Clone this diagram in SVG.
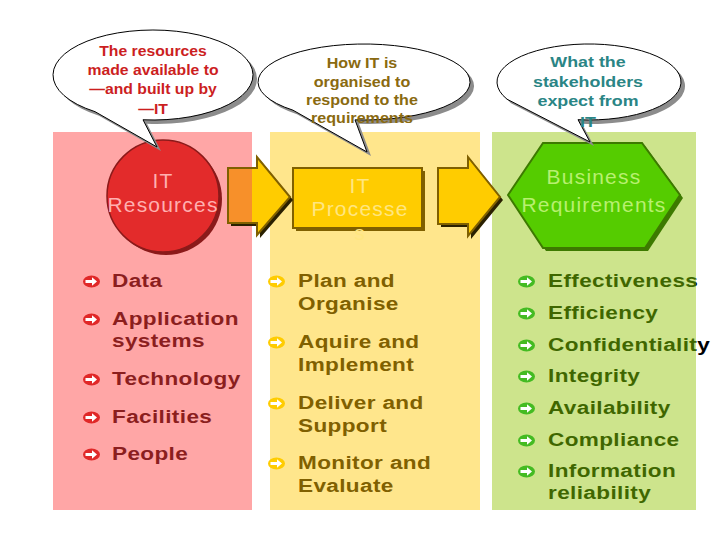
<svg xmlns="http://www.w3.org/2000/svg" width="720" height="540" viewBox="0 0 720 540">
<defs>
<style>
.list{font-family:"Liberation Sans",Arial,sans-serif;font-weight:bold;font-size:18.5px;letter-spacing:0.3px}
.node{font-family:"Liberation Sans",Arial,sans-serif;font-size:21px;letter-spacing:1.2px;text-anchor:middle}
.call{font-family:"Liberation Sans",Arial,sans-serif;font-weight:bold;text-anchor:middle}
.bubble{fill:#FFFFFF;stroke:#000000;stroke-width:1}
.bshadow{fill:#8C8C8C}
.arrow{fill:#FFCC00}
.arrowline{fill:none;stroke:#806000;stroke-width:2;stroke-linejoin:miter}
.ashadow{fill:#2A2000}
</style>
<g id="bullet">
<ellipse cx="0" cy="0" rx="8.5" ry="6"/>
<path d="M-6,-1.6 H0.5 V-4.3 L5.5,0 L0.5,4.3 V1.6 H-6 Z" fill="#FFFFFF"/>
</g>
<linearGradient id="gtext" gradientUnits="userSpaceOnUse" x1="0" y1="0" x2="200" y2="0">
<stop offset="0" stop-color="#3F6600"/>
<stop offset="0.6066" stop-color="#3F6600"/>
<stop offset="0.6066" stop-color="#000000"/>
<stop offset="1" stop-color="#000000"/>
</linearGradient>
</defs>
<rect width="720" height="540" fill="#FFFFFF"/>

<g id="panel-resources">
<rect x="53" y="132" width="199" height="378" fill="#FFA6A6"/>
<g class="list" fill="#8B1E1E" transform="translate(112,0) scale(1.22,1)">
<text x="0" y="287">Data</text>
<text x="0" y="325">Application</text>
<text x="0" y="347">systems</text>
<text x="0" y="385">Technology</text>
<text x="0" y="423">Facilities</text>
<text x="0" y="460">People</text>
</g>
<g fill="#E02828">
<use href="#bullet" x="91.5" y="281.5"/>
<use href="#bullet" x="91.5" y="319.5"/>
<use href="#bullet" x="91.5" y="379.5"/>
<use href="#bullet" x="91.5" y="417.5"/>
<use href="#bullet" x="91.5" y="454.5"/>
</g>
</g>

<g id="panel-processes">
<rect x="270" y="132" width="210" height="378" fill="#FFE68C"/>
<g class="list" fill="#806000" transform="translate(298,0) scale(1.22,1)">
<text x="0" y="287">Plan and</text>
<text x="0" y="310">Organise</text>
<text x="0" y="348">Aquire and</text>
<text x="0" y="371">Implement</text>
<text x="0" y="409">Deliver and</text>
<text x="0" y="432">Support</text>
<text x="0" y="469">Monitor and</text>
<text x="0" y="492">Evaluate</text>
</g>
<g fill="#FFCC00">
<use href="#bullet" x="276.5" y="281.5"/>
<use href="#bullet" x="276.5" y="342.5"/>
<use href="#bullet" x="276.5" y="403.5"/>
<use href="#bullet" x="276.5" y="463.5"/>
</g>
</g>

<g id="panel-requirements">
<rect x="492" y="132" width="204" height="378" fill="#CDE48C"/>
<g class="list" fill="url(#gtext)" transform="translate(548,0) scale(1.22,1)">
<text x="0" y="287">Effectiveness</text>
<text x="0" y="319">Efficiency</text>
<text x="0" y="351">Confidentiality</text>
<text x="0" y="382">Integrity</text>
<text x="0" y="414">Availability</text>
<text x="0" y="446">Compliance</text>
<text x="0" y="477">Information</text>
<text x="0" y="499">reliability</text>
</g>
<g fill="#44BB22">
<use href="#bullet" x="526.5" y="281.5"/>
<use href="#bullet" x="526.5" y="313.5"/>
<use href="#bullet" x="526.5" y="345.5"/>
<use href="#bullet" x="526.5" y="376.5"/>
<use href="#bullet" x="526.5" y="408.5"/>
<use href="#bullet" x="526.5" y="440.5"/>
<use href="#bullet" x="526.5" y="471.5"/>
</g>
</g>

<g id="node-it-resources">
<circle cx="166" cy="199" r="56" fill="#8B1A1A"/>
<circle cx="163" cy="196" r="56" fill="#E32B2B" stroke="#8B1A1A" stroke-width="1.5"/>
<text class="node" fill="#FFB0B0" x="163" y="188">IT</text>
<text class="node" fill="#FFB0B0" x="163" y="212">Resources</text>
</g>

<g id="node-it-processes">
<rect x="296" y="171" width="129" height="60" fill="#806000"/>
<rect x="293" y="168" width="129" height="60" fill="#FFCC00" stroke="#806000" stroke-width="2"/>
<text class="node" fill="#FFE680" x="360" y="193">IT</text>
<text class="node" fill="#FFE680" x="360" y="216">Processe</text>
<text class="node" fill="#FFE680" x="360" y="240">s</text>
</g>

<g id="node-business-requirements">
<polygon points="511,198 546,146 645,146 683,198 648,251 546,251" fill="#3D7A00"/>
<polygon points="508,195 543,143 642,143 680,195 645,248 543,248" fill="#55CC00" stroke="#3D7A00" stroke-width="2"/>
<text class="node" fill="#B8F070" x="594" y="184">Business</text>
<text class="node" fill="#B8F070" x="594" y="212">Requirements</text>
</g>

<g id="connectors">
<g id="arrow-1">
<polygon class="ashadow" points="231,171 260,171 260,160 293,200 260,238 260,226 231,226"/>
<polygon class="arrow" points="228,168 257,168 257,157 290,197 257,235 257,223 228,223"/>
<rect x="228" y="168" width="24" height="55" fill="#F7902A"/>
<polygon class="arrowline" points="228,168 257,168 257,157 290,197 257,235 257,223 228,223"/>
</g>
<g id="arrow-2">
<polygon class="ashadow" points="441,171 471,171 471,160 503,200 471,239 471,227 441,227"/>
<polygon class="arrow" points="438,168 468,168 468,157 500,197 468,236 468,224 438,224"/>
<polygon class="arrowline" points="438,168 468,168 468,157 500,197 468,236 468,224 438,224"/>
</g>
</g>

<g id="callout-resources">
<path class="bshadow" transform="translate(4,4)" d="M95,111.66 A100,45 0 1 1 143,119.78 L157,147 Z"/>
<path class="bubble" d="M95,111.66 A100,45 0 1 1 143,119.78 L157,147 Z"/>
<g class="call" fill="#CC1F1F" font-size="15" transform="translate(153,0) scale(1.05,1)">
<text x="0" y="56">The resources</text>
<text x="0" y="75">made available to</text>
<text x="0" y="94">—and built up by</text>
<text x="0" y="114">—IT</text>
</g>
</g>

<g id="callout-processes">
<path class="bshadow" transform="translate(4,4)" d="M293,110.2 A106,38 0 1 1 355,119.86 L367,152 Z"/>
<path class="bubble" d="M293,110.2 A106,38 0 1 1 355,119.86 L367,152 Z"/>
<g class="call" fill="#8A6A10" font-size="14" transform="translate(362,0) scale(1.15,1)">
<text x="0" y="68">How IT is</text>
<text x="0" y="87">organised to</text>
<text x="0" y="105">respond to the</text>
<text x="0" y="123">requirements</text>
</g>
</g>

<g id="callout-requirements">
<path class="bshadow" transform="translate(4,4)" d="M507,99.2 A92,38 0 1 1 578,119.7 L590,142 Z"/>
<path class="bubble" d="M507,99.2 A92,38 0 1 1 578,119.7 L590,142 Z"/>
<g class="call" fill="#2A8585" font-size="15" transform="translate(588,0) scale(1.19,1)">
<text x="0" y="67">What the</text>
<text x="0" y="87">stakeholders</text>
<text x="0" y="106">expect from</text>
<text x="0" y="127">IT</text>
</g>
</g>
</svg>
